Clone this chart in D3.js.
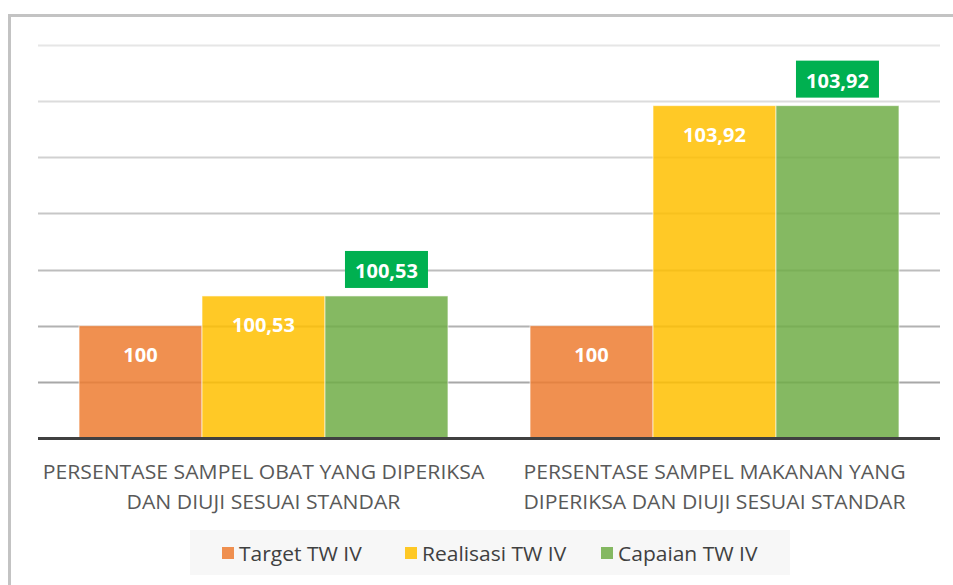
<!DOCTYPE html>
<html>
<head>
<meta charset="utf-8">
<script src="https://cdn.jsdelivr.net/npm/d3@7/dist/d3.min.js"></script>
<style>
  html, body { margin: 0; padding: 0; background: #ffffff; }
  svg { display: block; }
</style>
</head>
<body>
<svg id="chart" width="953" height="585"></svg>
<script>
const categories = [
  ["PERSENTASE SAMPEL OBAT YANG DIPERIKSA", "DAN DIUJI SESUAI STANDAR"],
  ["PERSENTASE SAMPEL MAKANAN YANG", "DIPERIKSA DAN DIUJI SESUAI STANDAR"]
];
const seriesNames = ["Target TW IV", "Realisasi TW IV", "Capaian TW IV"];
const targetValues = [100, 100];
const realisasiValues = [100.53, 103.92];
const capaianValues = [100.53, 103.92];
const valueLabels = [["100", "100,53", "100,53"], ["100", "103,92", "103,92"]];
const yTicks = [98, 99, 100, 101, 102, 103, 104, 105];
const colors = ["#ED7D31", "#FFC000", "#70AD47"];

const series = [targetValues, realisasiValues, capaianValues];

const svg = d3.select("#chart");
const W = 953, H = 585;

// outer frame
svg.append("rect")
  .attr("x", 9.5).attr("y", 15.5)
  .attr("width", W + 20).attr("height", H + 20)
  .attr("fill", "#ffffff")
  .attr("stroke", "#c3c3c3").attr("stroke-width", 3);

const plot = { left: 38, right: 940, top: 45, bottom: 438 };

const x0 = d3.scaleBand()
  .domain(d3.range(categories.length))
  .range([plot.left, plot.right])
  .paddingInner(0.182)
  .paddingOuter(0.091);

const x1 = d3.scaleBand()
  .domain(d3.range(seriesNames.length))
  .range([0, x0.bandwidth()])
  .padding(0);

const y = d3.scaleLinear()
  .domain([98, 105])
  .range([plot.bottom, plot.top]);

const gridColor = d3.scaleLinear()
  .domain([105, 99])
  .range(["#e6e6e6", "#a8a8a8"]);

// gridlines
const grid = svg.append("g");
grid.selectAll("line")
  .data(yTicks.filter(t => t > 98))
  .join("line")
  .attr("x1", plot.left).attr("x2", plot.right)
  .attr("y1", d => Math.round(y(d)) + 0.5)
  .attr("y2", d => Math.round(y(d)) + 0.5)
  .attr("stroke", d => gridColor(d))
  .attr("stroke-width", 2);

// bars
const groups = svg.append("g").selectAll("g")
  .data(categories.map((c, i) => i))
  .join("g")
  .attr("transform", i => `translate(${x0(i)},0)`);

groups.selectAll("rect")
  .data(i => series.map((s, j) => ({ i, j, v: s[i] })))
  .join("rect")
  .attr("x", d => x1(d.j))
  .attr("y", d => y(d.v))
  .attr("width", x1.bandwidth())
  .attr("height", d => y(98) - y(d.v))
  .attr("fill", d => colors[d.j])
  .attr("fill-opacity", 0.85)
  .attr("stroke", "rgba(255,255,255,0.6)")
  .attr("stroke-width", 1);

// value labels
const fontBold = "'Open Sans', 'DejaVu Sans', sans-serif";
groups.each(function(i) {
  const g = d3.select(this);
  series.forEach((s, j) => {
    const cx = x1(j) + x1.bandwidth() / 2;
    const txt = valueLabels[i][j];
    if (j < 2) {
      g.append("text")
        .attr("x", cx)
        .attr("y", y(s[i]) + 29)
        .attr("text-anchor", "middle")
        .attr("dominant-baseline", "central")
        .attr("fill", "#ffffff")
        .attr("font-family", fontBold)
        .attr("font-weight", "bold")
        .attr("font-size", 20)
        .text(txt);
    } else {
      const boxW = 83, boxH = 37;
      const top = y(s[i]) - 8 - boxH;
      g.append("rect")
        .attr("x", cx - boxW / 2).attr("y", top)
        .attr("width", boxW).attr("height", boxH)
        .attr("fill", "#00B050");
      g.append("text")
        .attr("x", cx)
        .attr("y", top + boxH / 2 + 1)
        .attr("text-anchor", "middle")
        .attr("dominant-baseline", "central")
        .attr("fill", "#ffffff")
        .attr("font-family", fontBold)
        .attr("font-weight", "bold")
        .attr("font-size", 20)
        .text(txt);
    }
  });
});

// baseline
svg.append("line")
  .attr("x1", plot.left).attr("x2", plot.right)
  .attr("y1", y(98) + 0.5).attr("y2", y(98) + 0.5)
  .attr("stroke", "#404040").attr("stroke-width", 3);

// category labels
const catFont = "'Open Sans', 'DejaVu Sans', sans-serif";
const catG = svg.append("g");
categories.forEach((lines, i) => {
  const cx = x0(i) + x0.bandwidth() / 2;
  lines.forEach((line, k) => {
    catG.append("text")
      .attr("x", 0).attr("y", 0)
      .attr("text-anchor", "middle")
      .attr("dominant-baseline", "central")
      .attr("fill", "#595959")
      .attr("font-family", catFont)
      .attr("font-size", 20)
      .attr("transform", `translate(${cx},${471 + k * 30}) scale(1.06,1)`)
      .text(line);
  });
});

// legend
const legBox = { x: 190, y: 530, w: 600, h: 45 };
svg.append("rect")
  .attr("x", legBox.x).attr("y", legBox.y)
  .attr("width", legBox.w).attr("height", legBox.h)
  .attr("fill", "#f7f7f7");

const legX = [222, 405, 601];
const leg = svg.append("g");
seriesNames.forEach((name, j) => {
  leg.append("rect")
    .attr("x", legX[j]).attr("y", 547)
    .attr("width", 12).attr("height", 12)
    .attr("fill", colors[j]).attr("fill-opacity", 0.85);
  leg.append("text")
    .attr("x", 0).attr("y", 0)
    .attr("transform", `translate(${legX[j] + 17},553) scale(1.05,1)`)
    .attr("dominant-baseline", "central")
    .attr("fill", "#404040")
    .attr("font-family", catFont)
    .attr("font-size", 20)
    .text(name);
});
</script>
</body>
</html>
